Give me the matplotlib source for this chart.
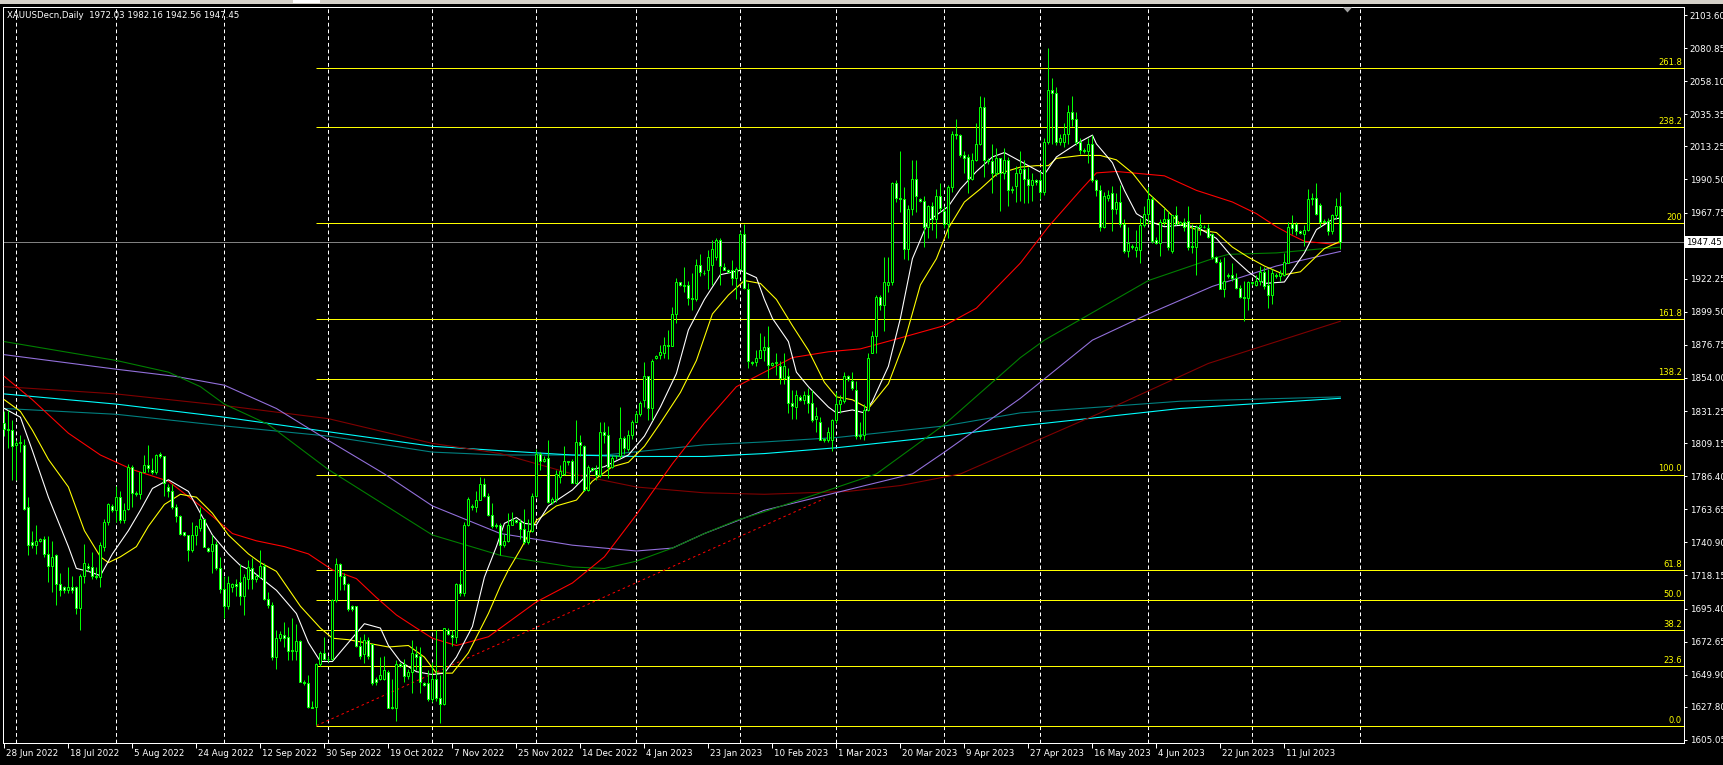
import numpy as np
import matplotlib.pyplot as plt
import matplotlib.transforms as mtransforms
from matplotlib.patches import Rectangle, Polygon

# ---- daily bars, XAUUSD, 28 Jun 2022 .. 27 Jul 2023 ----
opens = [
    1823, 1819, 1818, 1808, 1809, 1808, 1765, 1741, 1739, 1742, 1743, 1733, 1725, 1732, 1712, 1710,
    1708, 1710, 1710, 1696, 1718, 1725, 1724, 1718, 1717, 1738, 1755, 1766, 1763, 1772, 1756, 1764,
    1793, 1775, 1774, 1789, 1794, 1791, 1789, 1802, 1800, 1779, 1776, 1765, 1759, 1748, 1746, 1736,
    1746, 1751, 1757, 1737, 1735, 1740, 1723, 1709, 1697, 1710, 1712, 1714, 1704, 1716, 1723, 1716,
    1717, 1725, 1702, 1698, 1662, 1675, 1677, 1676, 1667, 1666, 1673, 1645, 1644, 1628, 1628, 1657,
    1665, 1661, 1661, 1701, 1726, 1718, 1712, 1697, 1697, 1670, 1664, 1674, 1671, 1647, 1647, 1647,
    1652, 1628, 1627, 1657, 1657, 1649, 1652, 1664, 1663, 1644, 1644, 1633, 1647, 1634, 1630, 1681,
    1677, 1676, 1712, 1706, 1753, 1766, 1765, 1770, 1781, 1773, 1760, 1753, 1753, 1739, 1742, 1753,
    1756, 1755, 1750, 1741, 1749, 1773, 1802, 1797, 1799, 1769, 1771, 1786, 1788, 1797, 1797, 1782,
    1810, 1807, 1777, 1792, 1791, 1787, 1817, 1815, 1793, 1800, 1800, 1813, 1805, 1815, 1824, 1829,
    1839, 1855, 1833, 1868, 1870, 1871, 1877, 1876, 1898, 1920, 1917, 1918, 1909, 1908, 1932, 1926,
    1928, 1932, 1937, 1949, 1930, 1928, 1928, 1923, 1929, 1953, 1915, 1865, 1865, 1868, 1873, 1875,
    1863, 1864, 1862, 1854, 1855, 1837, 1834, 1841, 1839, 1842, 1837, 1826, 1824, 1812, 1811, 1811,
    1825, 1836, 1838, 1855, 1852, 1846, 1815, 1815, 1832, 1871, 1883, 1910, 1904, 1918, 1920, 1988,
    1978, 1977, 1943, 1970, 1991, 1977, 1976, 1958, 1972, 1963, 1979, 1969, 1960, 1985, 2022, 2021,
    2007, 2006, 1991, 2004, 2015, 2040, 2004, 2003, 1995, 2005, 1995, 2004, 1983, 1986, 1995, 1998,
    1991, 1987, 1990, 1990, 1982, 2016, 2052, 2050, 2016, 2016, 2022, 2037, 2032, 2016, 2011, 2010,
    2015, 1990, 1983, 1958, 1978, 1981, 1970, 1975, 1960, 1941, 1945, 1942, 1942, 1959, 1967, 1977,
    1949, 1947, 1961, 1963, 1941, 1966, 1960, 1961, 1962, 1945, 1944, 1958, 1958, 1957, 1953, 1937,
    1934, 1915, 1925, 1925, 1923, 1916, 1910, 1909, 1919, 1918, 1921, 1927, 1918, 1911, 1925, 1924,
    1925, 1933, 1960, 1960, 1955, 1953, 1956, 1978, 1978, 1973, 1962, 1962, 1955, 1966, 1972.03,
]
highs = [
    1831, 1832, 1825, 1811, 1815, 1812, 1772, 1749, 1753, 1744, 1745, 1745, 1742, 1733, 1720, 1711,
    1724, 1718, 1711, 1719, 1740, 1727, 1734, 1724, 1741, 1757, 1768, 1767, 1780, 1776, 1768, 1795,
    1794, 1776, 1789, 1801, 1808, 1799, 1802, 1803, 1800, 1781, 1781, 1767, 1760, 1748, 1746, 1755,
    1753, 1765, 1758, 1738, 1746, 1742, 1731, 1718, 1718, 1713, 1716, 1726, 1719, 1729, 1730, 1719,
    1736, 1727, 1707, 1700, 1681, 1680, 1686, 1683, 1689, 1685, 1674, 1646, 1650, 1632, 1658, 1666,
    1676, 1663, 1702, 1730, 1727, 1720, 1713, 1698, 1697, 1676, 1678, 1676, 1671, 1648, 1662, 1663,
    1653, 1647, 1660, 1659, 1661, 1654, 1674, 1670, 1669, 1645, 1653, 1659, 1681, 1650, 1682, 1682,
    1681, 1713, 1722, 1755, 1772, 1767, 1776, 1786, 1785, 1775, 1768, 1754, 1754, 1747, 1761, 1762,
    1757, 1757, 1764, 1757, 1775, 1805, 1803, 1800, 1811, 1772, 1791, 1794, 1807, 1797, 1798, 1825,
    1815, 1808, 1794, 1793, 1794, 1824, 1824, 1821, 1801, 1801, 1834, 1814, 1818, 1825, 1831, 1838,
    1865, 1855, 1867, 1870, 1877, 1882, 1887, 1903, 1923, 1920, 1930, 1921, 1926, 1936, 1939, 1928,
    1942, 1949, 1950, 1950, 1933, 1929, 1935, 1930, 1955, 1960, 1919, 1866, 1873, 1885, 1883, 1890,
    1865, 1871, 1866, 1871, 1861, 1846, 1846, 1842, 1845, 1847, 1846, 1834, 1827, 1813, 1820, 1826,
    1844, 1842, 1858, 1856, 1858, 1852, 1824, 1836, 1871, 1886, 1911, 1911, 1937, 1937, 1989, 1990,
    2010, 1985, 1973, 2004, 2004, 1978, 1979, 1973, 1975, 1984, 1988, 1972, 1987, 2024, 2032, 2022,
    2010, 2008, 2009, 2029, 2048, 2047, 2005, 2015, 2012, 2005, 2012, 2006, 1986, 2000, 2010, 2004,
    1999, 1995, 1991, 1996, 2019, 2081, 2060, 2054, 2022, 2029, 2042, 2048, 2037, 2019, 2012, 2019,
    2021, 1991, 1987, 1982, 1983, 1986, 1981, 1987, 1963, 1958, 1946, 1956, 1964, 1972, 1985, 1979,
    1951, 1963, 1971, 1969, 1966, 1972, 1962, 1964, 1972, 1960, 1959, 1967, 1959, 1960, 1954, 1938,
    1936, 1937, 1926, 1933, 1926, 1918, 1921, 1921, 1920, 1925, 1931, 1930, 1929, 1929, 1926, 1928,
    1940, 1961, 1966, 1961, 1956, 1959, 1984, 1981, 1988, 1974, 1963, 1964, 1967, 1978, 1982.16,
]
lows = [
    1814, 1806, 1784, 1784, 1803, 1763, 1732, 1737, 1733, 1741, 1731, 1714, 1707, 1698, 1704, 1706,
    1706, 1706, 1692, 1681, 1713, 1721, 1716, 1716, 1710, 1735, 1753, 1762, 1755, 1754, 1754, 1763,
    1765, 1773, 1771, 1789, 1789, 1788, 1788, 1799, 1773, 1772, 1764, 1755, 1746, 1745, 1728, 1734,
    1739, 1749, 1738, 1734, 1720, 1722, 1706, 1689, 1695, 1707, 1704, 1698, 1691, 1709, 1709, 1714,
    1717, 1701, 1696, 1660, 1654, 1673, 1669, 1660, 1660, 1660, 1645, 1643, 1627, 1627, 1615, 1656,
    1660, 1659, 1660, 1700, 1708, 1708, 1694, 1694, 1669, 1661, 1658, 1661, 1643, 1643, 1646, 1646,
    1627, 1626, 1618, 1655, 1645, 1647, 1637, 1653, 1637, 1642, 1632, 1631, 1632, 1617, 1629, 1677,
    1670, 1672, 1704, 1704, 1752, 1763, 1762, 1770, 1772, 1759, 1751, 1751, 1732, 1738, 1741, 1753,
    1754, 1743, 1740, 1740, 1748, 1772, 1791, 1796, 1768, 1767, 1769, 1782, 1787, 1794, 1782, 1781,
    1800, 1776, 1776, 1790, 1784, 1786, 1809, 1785, 1792, 1798, 1799, 1802, 1804, 1812, 1824, 1828,
    1834, 1825, 1825, 1867, 1867, 1868, 1867, 1876, 1892, 1917, 1913, 1904, 1901, 1907, 1924, 1925,
    1915, 1918, 1935, 1918, 1928, 1926, 1918, 1908, 1928, 1915, 1861, 1863, 1862, 1868, 1866, 1854,
    1862, 1856, 1850, 1850, 1830, 1826, 1826, 1838, 1836, 1830, 1824, 1817, 1811, 1810, 1810, 1804,
    1823, 1830, 1837, 1852, 1846, 1812, 1812, 1811, 1831, 1871, 1871, 1901, 1886, 1913, 1918, 1975,
    1968, 1936, 1935, 1966, 1968, 1975, 1944, 1950, 1956, 1950, 1968, 1957, 1950, 1982, 2018, 2006,
    1995, 1981, 1990, 2003, 2014, 1992, 2001, 1981, 1993, 1969, 1991, 1972, 1981, 1975, 1976, 1974,
    1974, 1976, 1987, 1977, 1980, 2015, 2015, 2014, 2014, 2013, 2015, 2027, 2014, 2008, 2009, 2002,
    1989, 1979, 1955, 1957, 1976, 1955, 1967, 1958, 1940, 1937, 1943, 1937, 1933, 1958, 1960, 1947,
    1946, 1938, 1959, 1942, 1940, 1959, 1959, 1955, 1942, 1940, 1925, 1952, 1957, 1950, 1936, 1933,
    1915, 1910, 1923, 1921, 1915, 1909, 1893, 1901, 1918, 1917, 1918, 1915, 1902, 1905, 1923, 1921,
    1924, 1933, 1953, 1952, 1953, 1945, 1955, 1973, 1966, 1958, 1961, 1952, 1953, 1963, 1942.56,
]
closes = [
    1819, 1818, 1807, 1809, 1810, 1764, 1739, 1739, 1742, 1743, 1733, 1725, 1731, 1712, 1708, 1708,
    1710, 1708, 1696, 1718, 1727, 1723, 1718, 1717, 1739, 1755, 1767, 1763, 1772, 1756, 1763, 1793,
    1775, 1774, 1789, 1794, 1792, 1789, 1801, 1800, 1782, 1776, 1765, 1759, 1747, 1746, 1736, 1746,
    1752, 1757, 1738, 1735, 1740, 1723, 1709, 1697, 1713, 1712, 1711, 1704, 1717, 1724, 1716, 1718,
    1725, 1702, 1698, 1662, 1675, 1678, 1675, 1666, 1666, 1673, 1645, 1644, 1628, 1627, 1657, 1665,
    1661, 1661, 1701, 1726, 1718, 1712, 1695, 1695, 1670, 1663, 1674, 1663, 1644, 1645, 1650, 1653,
    1627, 1627, 1657, 1656, 1649, 1652, 1665, 1662, 1645, 1643, 1633, 1647, 1634, 1630, 1682, 1678,
    1676, 1712, 1706, 1753, 1771, 1765, 1770, 1781, 1773, 1760, 1752, 1752, 1739, 1742, 1753, 1756,
    1755, 1750, 1741, 1749, 1773, 1802, 1797, 1798, 1769, 1771, 1788, 1790, 1797, 1796, 1782, 1810,
    1808, 1777, 1793, 1791, 1787, 1817, 1815, 1793, 1799, 1800, 1813, 1806, 1815, 1824, 1829, 1837,
    1855, 1833, 1866, 1869, 1872, 1877, 1876, 1898, 1920, 1918, 1918, 1909, 1908, 1932, 1927, 1926,
    1937, 1943, 1949, 1931, 1928, 1927, 1923, 1929, 1953, 1916, 1866, 1864, 1868, 1873, 1875, 1863,
    1864, 1865, 1854, 1862, 1837, 1835, 1842, 1839, 1842, 1837, 1825, 1828, 1811, 1811, 1817, 1825,
    1836, 1839, 1855, 1853, 1847, 1814, 1814, 1832, 1868, 1883, 1910, 1904, 1920, 1920, 1988, 1978,
    1977, 1943, 1970, 1991, 1979, 1976, 1958, 1972, 1963, 1979, 1971, 1960, 1985, 2022, 2021, 2007,
    2005, 1991, 2004, 2015, 2040, 2004, 2003, 1995, 2005, 1995, 2004, 1983, 1984, 1995, 1998, 1991,
    1987, 1990, 1989, 1982, 2016, 2052, 2050, 2016, 2019, 2022, 2037, 2032, 2016, 2011, 2010, 2015,
    1990, 1983, 1958, 1979, 1980, 1970, 1975, 1960, 1941, 1947, 1944, 1944, 1959, 1967, 1977, 1948,
    1947, 1961, 1963, 1944, 1966, 1960, 1961, 1958, 1944, 1944, 1958, 1959, 1958, 1951, 1937, 1934,
    1915, 1921, 1924, 1923, 1916, 1910, 1909, 1920, 1920, 1921, 1927, 1917, 1911, 1926, 1924, 1926,
    1934, 1958, 1957, 1955, 1954, 1956, 1977, 1977, 1967, 1961, 1961, 1955, 1966, 1972, 1947.45,
]

# moving averages, sampled as (bar, price) off the picture
ma_white = [(0, 1833), (4, 1827), (7, 1804), (11, 1772), (16, 1738), (18, 1723), (21, 1721), (24, 1718),
            (27, 1733), (31, 1749), (34, 1763), (37, 1778), (41, 1784), (46, 1776), (49, 1761), (52, 1746),
            (56, 1733), (59, 1725), (62, 1721), (68, 1708), (73, 1692), (76, 1672), (79, 1659), (82, 1659),
            (86, 1672), (90, 1685), (94, 1682), (96, 1670), (99, 1659), (103, 1652), (107, 1650), (110, 1651),
            (113, 1662), (117, 1683), (120, 1717), (123, 1738), (125, 1754), (128, 1758), (130, 1754),
            (133, 1753), (136, 1766), (142, 1777), (147, 1791), (150, 1793), (156, 1801), (160, 1814),
            (164, 1834), (168, 1857), (171, 1887), (175, 1908), (179, 1925), (184, 1928), (188, 1923),
            (190, 1908), (192, 1895), (196, 1879), (198, 1858), (201, 1848), (206, 1834), (208, 1830),
            (212, 1832), (215, 1830), (217, 1838), (221, 1862), (224, 1895), (227, 1936), (231, 1962),
            (236, 1972), (239, 1984), (243, 1996), (247, 2006), (250, 2009), (254, 2003), (256, 2000),
            (260, 1994), (263, 2006), (268, 2015), (272, 2021), (273, 2015), (277, 2002), (280, 1983),
            (283, 1967), (286, 1962), (290, 1958), (294, 1959), (298, 1958), (303, 1950), (307, 1937),
            (311, 1927), (315, 1919), (320, 1920), (322, 1928), (325, 1940), (328, 1956), (332, 1963),
            (334, 1964)]
ma_yellow = [(0, 1839), (4, 1831), (7, 1818), (11, 1798), (16, 1779), (20, 1749), (24, 1731), (26, 1727),
             (29, 1731), (33, 1738), (36, 1752), (40, 1767), (44, 1774), (48, 1772), (52, 1761), (56, 1746),
             (61, 1733), (64, 1727), (68, 1721), (74, 1697), (79, 1682), (82, 1675), (86, 1674), (90, 1672),
             (96, 1669), (101, 1670), (105, 1662), (108, 1651), (112, 1651), (116, 1665), (121, 1692),
             (124, 1711), (126, 1722), (129, 1736), (133, 1756), (138, 1766), (143, 1770), (147, 1783),
             (152, 1793), (156, 1796), (160, 1807), (164, 1823), (169, 1844), (173, 1866), (177, 1898),
             (181, 1911), (185, 1921), (189, 1919), (193, 1908), (197, 1890), (201, 1873), (205, 1851),
             (208, 1841), (212, 1839), (216, 1833), (221, 1850), (225, 1879), (229, 1918), (233, 1936),
             (236, 1957), (240, 1975), (244, 1984), (248, 1994), (254, 1999), (258, 2000), (261, 2000),
             (263, 2005), (269, 2007), (274, 2007), (278, 2004), (282, 1995), (286, 1981), (290, 1971),
             (294, 1960), (298, 1956), (303, 1954), (307, 1944), (311, 1937), (315, 1931), (320, 1925),
             (324, 1927), (327, 1935), (330, 1943), (334, 1948)]
ma_red = [(0, 1855), (7, 1839), (16, 1816), (24, 1801), (32, 1791), (41, 1783), (49, 1766), (57, 1747),
          (63, 1742), (70, 1738), (76, 1733), (82, 1722), (88, 1716), (93, 1703), (98, 1691), (103, 1682),
          (107, 1675), (113, 1670), (121, 1676), (125, 1684), (133, 1700), (142, 1713), (150, 1731),
          (158, 1760), (167, 1795), (175, 1823), (183, 1848), (190, 1858), (197, 1868), (206, 1872),
          (214, 1874), (222, 1880), (235, 1890), (243, 1902), (254, 1933), (261, 1958), (269, 1983),
          (273, 1995), (278, 1996), (286, 1994), (290, 1993), (298, 1983), (307, 1975), (313, 1967),
          (318, 1958), (322, 1952), (325, 1948), (332, 1946), (334, 1947)]
ma_green = [(0, 1879), (28, 1866), (41, 1858), (49, 1848), (55, 1836), (66, 1822), (81, 1791), (107, 1746),
            (124, 1732), (128, 1730), (142, 1724), (150, 1723), (158, 1728), (167, 1737), (175, 1747),
            (183, 1756), (190, 1762), (218, 1788), (235, 1822), (254, 1868), (260, 1880), (286, 1921),
            (302, 1936), (306, 1939), (318, 1940), (334, 1944)]
ma_purple = [(0, 1870), (28, 1860), (43, 1855), (55, 1849), (68, 1833), (81, 1811), (95, 1788), (107, 1766),
             (124, 1747), (142, 1739), (158, 1735), (167, 1737), (175, 1747), (190, 1763), (227, 1788),
             (235, 1803), (254, 1840), (272, 1880), (286, 1898), (302, 1917), (318, 1931), (334, 1941)]
ma_maroon = [(0, 1848), (28, 1843), (55, 1835), (81, 1826), (107, 1809), (124, 1802), (142, 1788), (158, 1779),
             (175, 1775), (190, 1774), (211, 1776), (224, 1780), (239, 1788), (254, 1806), (274, 1830),
             (301, 1864), (334, 1893)]
ma_cyan = [(0, 1843), (28, 1836), (55, 1827), (81, 1817), (107, 1807), (124, 1804), (142, 1801), (158, 1800),
           (175, 1800), (190, 1802), (208, 1806), (235, 1814), (254, 1821), (294, 1833), (334, 1840)]
ma_teal = [(0, 1833), (28, 1829), (55, 1821), (81, 1814), (107, 1803), (124, 1801), (150, 1801), (175, 1808),
           (190, 1810), (208, 1813), (235, 1821), (254, 1830), (294, 1838), (334, 1841)]

date_labels = ["28 Jun 2022", "18 Jul 2022", "5 Aug 2022", "24 Aug 2022", "12 Sep 2022", "30 Sep 2022",
               "19 Oct 2022", "7 Nov 2022", "25 Nov 2022", "14 Dec 2022", "4 Jan 2023", "23 Jan 2023",
               "10 Feb 2023", "1 Mar 2023", "20 Mar 2023", "9 Apr 2023", "27 Apr 2023", "16 May 2023",
               "4 Jun 2023", "22 Jun 2023", "11 Jul 2023"]
label_every = 16
month_start_bars = [3, 28, 55, 81, 107, 133, 158, 184, 208, 235, 259, 286, 312, 339]

price_ticks = [2103.60, 2080.85, 2058.10, 2035.35, 2013.25, 1990.50, 1967.75, 1945.00, 1922.25,
               1899.50, 1876.75, 1854.00, 1831.25, 1809.15, 1786.40, 1763.65, 1740.90, 1718.15,
               1695.40, 1672.65, 1649.90, 1627.80, 1605.05]

fib_low, fib_high = 1614.9, 1787.6
fib_start_bar = 78
fib_levels = [0.0, 23.6, 38.2, 50.0, 61.8, 100.0, 138.2, 161.8, 200.0, 238.2, 261.8]
fib_texts = ["0.0", "23.6", "38.2", "50.0", "61.8", "100.0", "138.2", "161.8", "200", "238.2", "261.8"]

trend_bars = [78, 205]
trend_prices = [1614.9, 1771.0]

title = "XAUUSDecn,Daily  1972.03 1982.16 1942.56 1947.45"
last_price = 1947.45

# ---- figure ----
W, H = 1724, 765
PX = 72 / 100  # one pixel in points
fig = plt.figure(figsize=(W / 100, H / 100), dpi=100, facecolor="black")

left, right, top, bottom = 2.7, 1684, 7.3, 742.7
ax = fig.add_axes([left / W, 1 - bottom / H, (right - left) / W, (bottom - top) / H])
ax.set_facecolor("black")
ax.set_xlim(-0.425, 419.9)
ax.set_ylim(1603.16, 2108.9)

for s in ax.spines.values():
    s.set_color("white")
    s.set_linewidth(PX)

# month grid
for b in month_start_bars:
    ax.axvline(b, color="white", lw=PX, dashes=(3.8, 2.9), zorder=1)

# fibonacci levels
rng = fib_high - fib_low
xr = ax.get_xlim()[1]
for lev, txt in zip(fib_levels, fib_texts):
    p = fib_low + rng * lev / 100
    ax.hlines(p, fib_start_bar, xr, color="#ffff00", lw=PX, zorder=2)
    ax.annotate(txt, (xr, p), xytext=(-1.5, 0.8), textcoords="offset points",
                ha="right", va="bottom", color="#ffff00", fontsize=6.0, zorder=6)

# current price line
ax.axhline(last_price, color="#808080", lw=PX, zorder=2)

# trend line
ax.plot(trend_bars, trend_prices, color="#ff0000", lw=PX, dashes=(2.5, 3), zorder=3)

# moving averages
for pts, col in [(ma_teal, "#008080"), (ma_cyan, "#00ffff"), (ma_maroon, "#800000"),
                 (ma_purple, "#9370db"), (ma_green, "#008000"), (ma_red, "#ff0000"),
                 (ma_yellow, "#ffff00"), (ma_white, "#ffffff")]:
    xs, ys = np.array(pts, dtype=float).T
    ax.plot(xs, ys, color=col, lw=PX * 1.1, zorder=4, solid_joinstyle="round")

# candles
o = np.array(opens)
h = np.array(highs)
l = np.array(lows)
c = np.array(closes)
x = np.arange(len(c))
ax.vlines(x, l, h, color="#00ff00", lw=PX, zorder=5)
up = c >= o
body_lo = np.minimum(o, c)
body_h = np.abs(c - o)
ax.bar(x[up], body_h[up], bottom=body_lo[up], width=0.5, color="black",
       edgecolor="#00ff00", linewidth=PX, zorder=5.5)
ax.bar(x[~up], body_h[~up], bottom=body_lo[~up], width=0.5, color="white",
       edgecolor="#00ff00", linewidth=PX, zorder=5.5)

# right price axis (the tick under the last-price tag keeps its mark but not its text)
ax.yaxis.tick_right()
ax.set_yticks(price_ticks)
ax.set_yticklabels(["" if abs(v - last_price) < 5 else f"{v:.2f}" for v in price_ticks])
ax.tick_params(axis="y", colors="white", labelsize=6.3, length=2.5, width=PX, pad=1.5)

# bottom date axis
tick_bars = [i * label_every for i in range(len(date_labels))]
ax.set_xticks(tick_bars)
ax.set_xticklabels([])
ax.tick_params(axis="x", colors="white", length=3.5, width=PX, direction="out")
trans = mtransforms.blended_transform_factory(ax.transData, fig.transFigure)
for b, lab in zip(tick_bars, date_labels):
    ax.text(b, 1 - 753 / H, lab, transform=mtransforms.offset_copy(trans, fig=fig, x=1.5, units="points"),
            ha="left", va="center", color="white", fontsize=6.3, clip_on=False)

# title
fig.text(7.5 / W, 1 - 15.5 / H, title, color="white", fontsize=6.2, ha="left", va="center")

# last price tag on the axis
yb = ax.transData.transform((0, last_price))[1]
fig.patches.append(Rectangle((1685 / W, (yb - 6) / H), 39 / W, 12 / H, transform=fig.transFigure,
                             facecolor="white", edgecolor="none", zorder=10))
fig.text(1704 / W, yb / H, f"{last_price:.2f}", color="black", fontsize=6.3,
         ha="center", va="center", zorder=11)

# window chrome strip and chart-shift marker
fig.patches.append(Rectangle((0, 1 - 3.5 / H), 1, 3.5 / H, transform=fig.transFigure,
                             facecolor="#d4d0c8", edgecolor="none", zorder=10))
fig.patches.append(Rectangle((293 / W, 1 - 2.5 / H), 27 / W, 2.5 / H, transform=fig.transFigure,
                             facecolor="white", edgecolor="none", zorder=11))
fig.patches.append(Polygon([[1343 / W, 1 - 7.5 / H], [1352 / W, 1 - 7.5 / H], [1347.5 / W, 1 - 12.5 / H]],
                           closed=True, transform=fig.transFigure, facecolor="#a0a0a0",
                           edgecolor="none", zorder=11))

fig.savefig("out.png", dpi=100, facecolor="black")
